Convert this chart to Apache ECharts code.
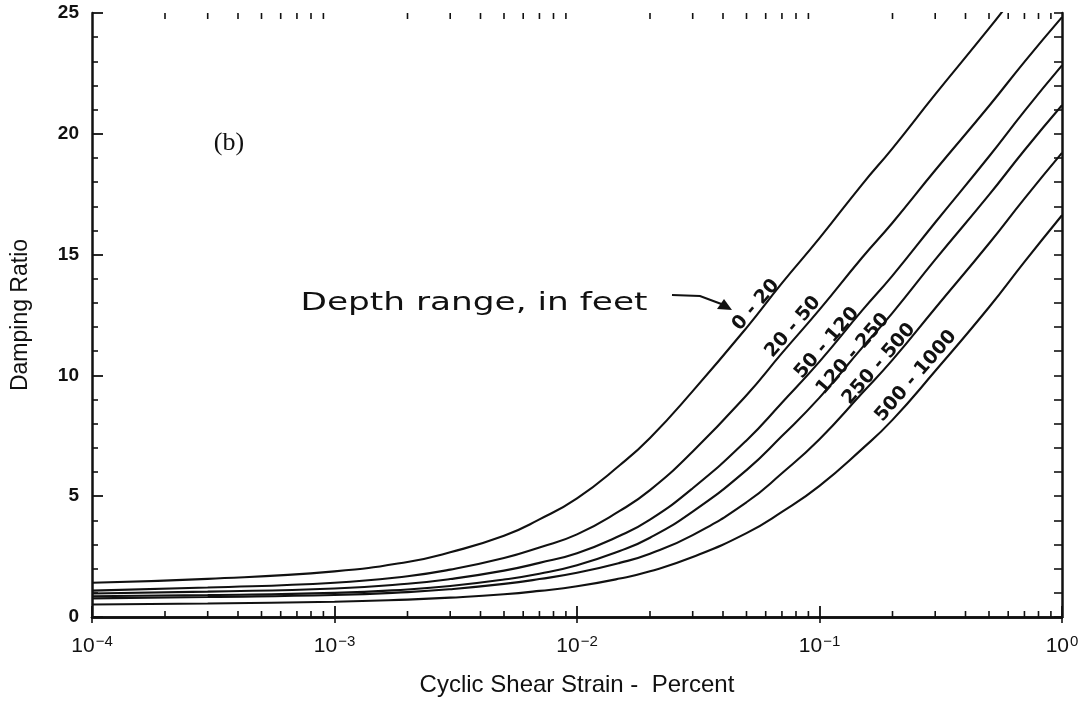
<!DOCTYPE html>
<html>
<head>
<meta charset="utf-8">
<script src="https://cdn.jsdelivr.net/npm/echarts@6/dist/echarts.min.js"></script>
<style>
  html, body { margin: 0; padding: 0; background: #fff; }
  #chart { width: 1089px; height: 702px; }
</style>
</head>
<body>
<div id="chart"></div>
<script>
// Cyclic shear strain (percent) at which the damping curves are sampled
const strainPct = [1e-4, 3e-4, 1e-3, 2e-3, 3e-3, 5e-3, 7e-3, 1e-2, 1.5e-2, 2e-2, 3e-2,
                   5e-2, 7e-2, 0.1, 0.15, 0.2, 0.3, 0.5, 0.7, 1];

// Depth range labels (feet) and damping ratio (%) per depth range
const depthRanges = ['0 - 20', '20 - 50', '50 - 120', '120 - 250', '250 - 500', '500 - 1000'];
const damp_0_20     = [1.42, 1.58, 1.89, 2.28, 2.68, 3.36, 4.04, 4.91, 6.28, 7.41, 9.35,
                       11.97, 13.82, 15.68, 17.91, 19.4, 21.63, 24.36, 26.22, 28.08];
const damp_20_50    = [1.09, 1.22, 1.42, 1.69, 1.96, 2.44, 2.88, 3.42, 4.39, 5.25, 6.85,
                       9.18, 10.92, 12.72, 14.88, 16.32, 18.49, 21.15, 22.98, 24.83];
const damp_50_120   = [0.97, 1.05, 1.18, 1.375, 1.57, 1.92, 2.24, 2.64, 3.36, 4.03, 5.33,
                       7.31, 8.87, 10.57, 12.69, 14.13, 16.33, 19.06, 20.94, 22.83];
const damp_120_250  = [0.86, 0.91, 1.00, 1.14, 1.28, 1.55, 1.79, 2.14, 2.73, 3.28, 4.36,
                       6.08, 7.49, 9.08, 11.15, 12.59, 14.79, 17.47, 19.32, 21.18];
const damp_250_500  = [0.77, 0.83, 0.91, 1.03, 1.15, 1.37, 1.57, 1.83, 2.24, 2.62, 3.39,
                       4.75, 5.95, 7.36, 9.27, 10.64, 12.78, 15.46, 17.32, 19.21];
const damp_500_1000 = [0.52, 0.56, 0.63, 0.72, 0.80, 0.94, 1.08, 1.27, 1.59, 1.89, 2.48,
                       3.47, 4.35, 5.43, 6.96, 8.16, 10.18, 12.82, 14.7, 16.63];
const dampCurves = [damp_0_20, damp_20_50, damp_50_120, damp_120_250, damp_250_500, damp_500_1000];

// Axis ranges and tick values
const xMin = 1e-4, xMax = 1;
const yMin = 0, yMax = 25, yStep = 5;
const minorStrainTicks = [];
for (let e = -4; e < 0; e++) {
  for (let k = 2; k <= 9; k++) minorStrainTicks.push(k * Math.pow(10, e));
}

const INK = '#111';
const chart = echarts.init(document.getElementById('chart'));

function expLabel(v) {
  const e = Math.round(Math.log10(v));
  return '{b|10}{s|' + (e < 0 ? '\u2212' + (-e) : String(e)) + '}';
}

const curveSeries = dampCurves.map((vals, i) => ({
  name: depthRanges[i],
  type: 'line',
  xAxisIndex: 0,
  yAxisIndex: 0,
  data: strainPct.map((x, j) => [x, vals[j]]),
  showSymbol: false,
  symbol: 'none',
  smooth: 0.5,
  clip: true,
  lineStyle: { color: INK, width: 2.1 },
  silent: true,
  z: 3
}));

// short log-decade minor ticks on the bottom and top frame lines
const minorTickSeries = {
  type: 'custom',
  xAxisIndex: 0,
  yAxisIndex: 0,
  data: minorStrainTicks.map(v => [v, yMin]),
  encode: { x: 0, y: 1 },
  clip: false,
  silent: true,
  z: 5,
  renderItem: function (params, api) {
    const v = api.value(0);
    const b = api.coord([v, yMin]);
    const t = api.coord([v, yMax]);
    return {
      type: 'group',
      children: [
        { type: 'line', shape: { x1: b[0], y1: b[1], x2: b[0], y2: b[1] - 6 }, style: { stroke: INK, lineWidth: 1.6 } },
        { type: 'line', shape: { x1: t[0], y1: t[1], x2: t[0], y2: t[1] + 6 }, style: { stroke: INK, lineWidth: 1.6 } }
      ]
    };
  }
};

const option = {
  backgroundColor: '#fff',
  animation: false,
  grid: { left: 92, right: 27, top: 13, bottom: 78, containLabel: false },
  xAxis: [
    {
      type: 'log', logBase: 10, min: xMin, max: xMax, position: 'bottom',
      name: 'Cyclic Shear Strain -  Percent', nameLocation: 'middle', nameGap: 56,
      nameTextStyle: { fontFamily: 'Liberation Sans', fontSize: 24, color: INK },
      axisLine: { lineStyle: { color: INK, width: 2.5 } },
      axisTick: { inside: true, length: 11, lineStyle: { color: INK, width: 1.8 } },
      minorTick: { show: false },
      splitLine: { show: false },
      axisLabel: {
        margin: 17, formatter: expLabel,
        rich: {
          b: { fontFamily: 'Liberation Sans', fontSize: 21, color: INK, lineHeight: 24 },
          s: { fontFamily: 'Liberation Sans', fontSize: 15, color: INK, verticalAlign: 'top', lineHeight: 24, padding: [0, 0, 10, 1] }
        }
      }
    },
    {
      type: 'log', logBase: 10, min: xMin, max: xMax, position: 'top',
      axisLine: { lineStyle: { color: INK, width: 2.5 } },
      axisTick: { inside: true, length: 6, lineStyle: { color: INK, width: 1.6 } },
      axisLabel: { show: false },
      splitLine: { show: false }
    }
  ],
  yAxis: [
    {
      type: 'value', min: yMin, max: yMax, interval: yStep, position: 'left',
      name: 'Damping Ratio', nameLocation: 'middle', nameGap: 60, nameRotate: 90,
      nameTextStyle: { fontFamily: 'Liberation Sans', fontSize: 23, color: INK },
      axisLine: { show: true, lineStyle: { color: INK, width: 2.5 } },
      axisTick: { show: true, inside: true, length: 11, lineStyle: { color: INK, width: 1.8 } },
      minorTick: { show: true, splitNumber: 5, length: 6, lineStyle: { color: INK, width: 1.6 } },
      splitLine: { show: false },
      axisLabel: { margin: 13, fontFamily: 'Liberation Sans', fontWeight: 'bold', fontSize: 19, color: INK }
    },
    {
      type: 'value', min: yMin, max: yMax, interval: yStep, position: 'right',
      axisLine: { show: true, lineStyle: { color: INK, width: 2.5 } },
      axisTick: { show: true, inside: true, length: 8, lineStyle: { color: INK, width: 1.6 } },
      minorTick: { show: true, splitNumber: 5, length: 8, lineStyle: { color: INK, width: 1.6 } },
      splitLine: { show: false },
      axisLabel: { show: false }
    }
  ],
  series: curveSeries.concat([minorTickSeries])
};
chart.setOption(option);

// Hand-lettered annotations: curve depth labels, the caption and its arrow, panel tag
const HAND = 'DejaVu Sans';
const labelSpots = [[756, 305], [793, 327], [827, 343], [853, 354], [879, 364], [916, 376]];
const labelTilt = 49 * Math.PI / 180;
const graphics = depthRanges.map((t, i) => ({
  type: 'text', x: labelSpots[i][0], y: labelSpots[i][1], rotation: labelTilt, z: 10,
  style: { text: t, fontFamily: HAND, fontWeight: 'bold', fontSize: 19, fill: INK, align: 'center', verticalAlign: 'middle' }
}));
graphics.push(
  { type: 'text', x: 474, y: 304, scaleX: 1.43, z: 10,
    style: { text: 'Depth range, in feet', fontFamily: HAND, fontSize: 24, fill: INK, align: 'center', verticalAlign: 'middle' } },
  { type: 'polyline', z: 10, shape: { points: [[672, 295], [700, 296], [724, 305]] }, style: { stroke: INK, lineWidth: 2.2, fill: null } },
  { type: 'polygon', z: 10, shape: { points: [[732, 310], [717, 309], [724, 299]] }, style: { fill: INK } },
  { type: 'text', x: 229, y: 143, z: 10,
    style: { text: '(b)', fontFamily: 'Liberation Serif', fontSize: 26, fill: INK, align: 'center', verticalAlign: 'middle' } }
);
chart.setOption({ graphic: graphics });
</script>
</body>
</html>
